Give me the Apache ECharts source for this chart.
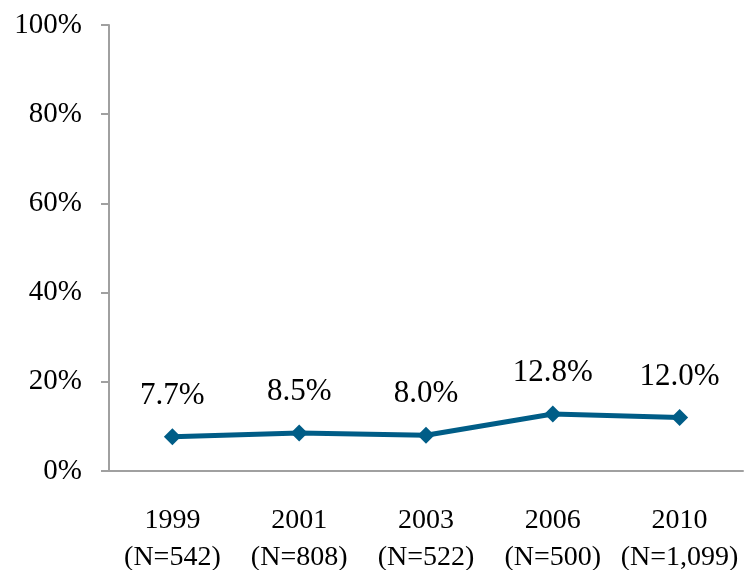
<!DOCTYPE html>
<html>
<head>
<meta charset="utf-8">
<script src="https://cdn.jsdelivr.net/npm/echarts@6/dist/echarts.min.js"></script>
<style>
  html, body { margin: 0; padding: 0; background: #fff; }
  #main { width: 747px; height: 570px; }
</style>
</head>
<body>
<div id="main"></div>
<script>
// 数据
var years = ['1999', '2001', '2003', '2006', '2010'];
var sampleSizes = ['N=542', 'N=808', 'N=522', 'N=500', 'N=1,099'];
var percents = [7.7, 8.5, 8.0, 12.8, 12.0];

var categories = [];
for (var i = 0; i < years.length; i++) {
	categories[i] = years[i] + '\n(' + sampleSizes[i] + ')';
}

var font = '"Liberation Serif", "DejaVu Serif", serif';
var axisGray = '#a0a0a0';

var myChart = echarts.init(document.getElementById('main'));

var option = {
	animation: false,
	grid: {
		left: 109,
		right: 4,
		top: 25,
		bottom: 99,
		containLabel: false,
		outerBoundsMode: 'none'
	},
	xAxis: {
		type: 'category',
		boundaryGap: true,
		data: categories,
		axisLine: { lineStyle: { color: axisGray, width: 2 } },
		axisTick: { length: 9, lineStyle: { color: axisGray, width: 2 } },
		axisLabel: {
			interval: 0,
			hideOverlap: false,
			margin: 31,
			color: '#000',
			fontFamily: font,
			fontSize: 28,
			lineHeight: 37
		}
	},
	yAxis: {
		type: 'value',
		min: 0,
		max: 100,
		interval: 20,
		axisLine: { show: true, lineStyle: { color: axisGray, width: 2 } },
		axisTick: { show: true, length: 8, lineStyle: { color: axisGray, width: 2 } },
		splitLine: { show: false },
		axisLabel: {
			margin: 27,
			color: '#000',
			fontFamily: font,
			fontSize: 29,
			formatter: '{value}%'
		}
	},
	series: [{
		type: 'line',
		data: percents,
		symbol: 'diamond',
		symbolSize: 17,
		lineStyle: { color: '#005d87', width: 5 },
		itemStyle: { color: '#005d87' },
		label: {
			show: true,
			position: 'top',
			distance: 17,
			color: '#000',
			fontFamily: font,
			fontSize: 31,
			formatter: function (p) { return p.value.toFixed(1) + '%'; }
		}
	}]
};

myChart.setOption(option);
</script>
</body>
</html>
